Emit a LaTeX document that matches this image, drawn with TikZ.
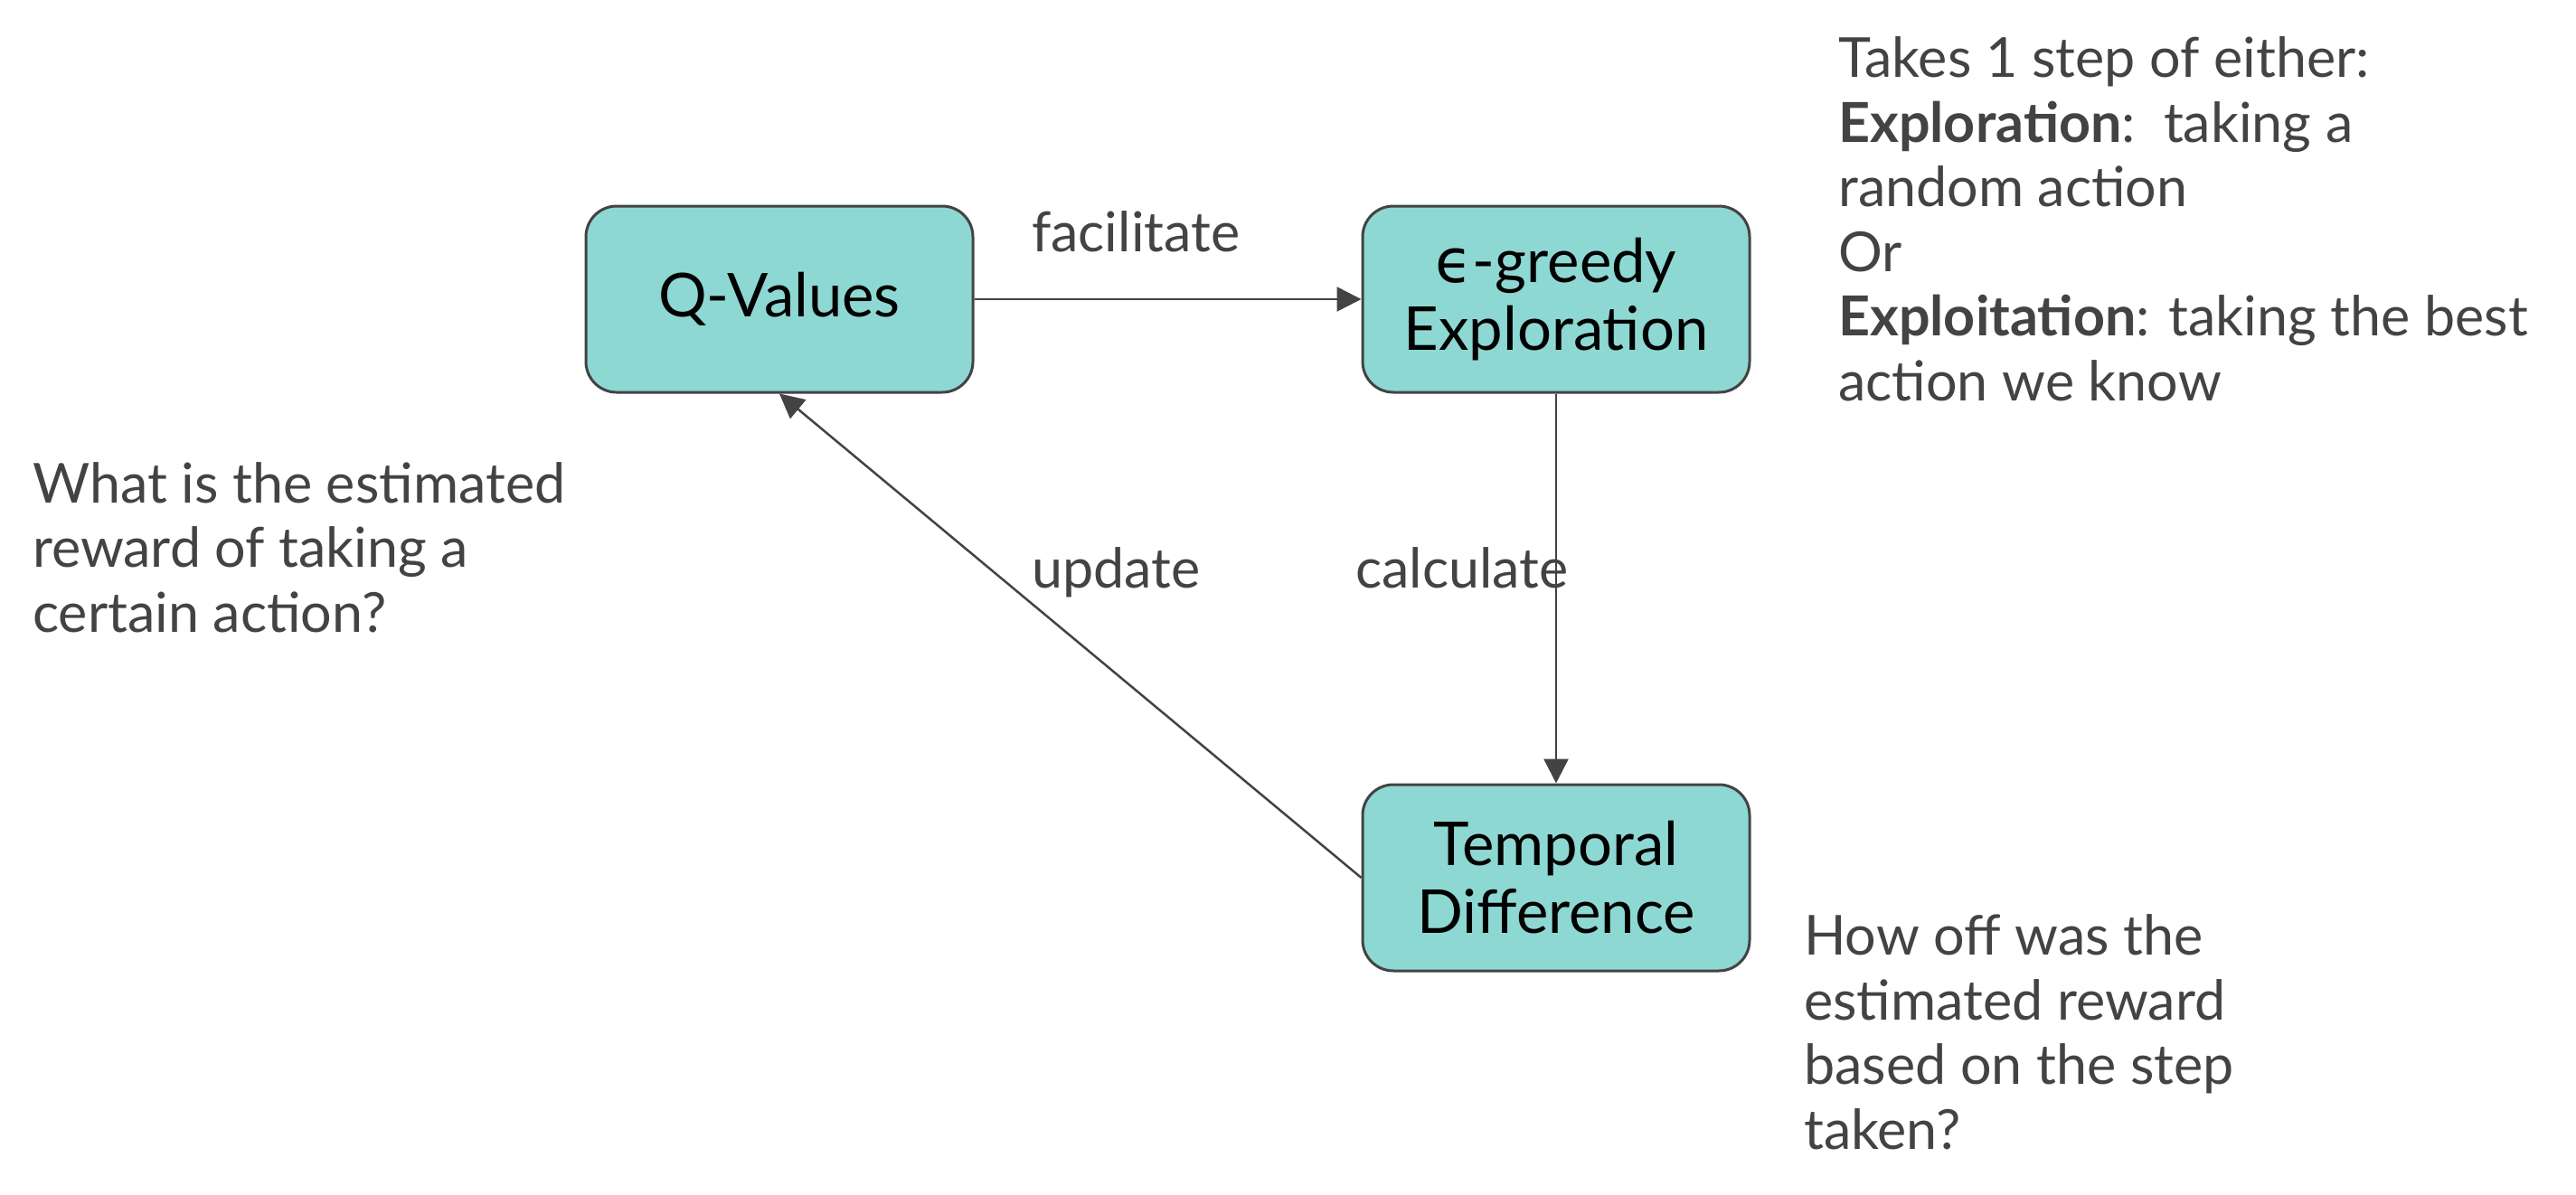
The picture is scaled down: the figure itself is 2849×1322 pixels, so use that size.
\documentclass[tikz,border=0pt]{standalone}
\usepackage{fontspec}
\setmainfont{Lato}
\newfontfamily\dejavu{DejaVu Sans}
\usetikzlibrary{arrows.meta}
\definecolor{boxfill}{HTML}{8ED8D3}
\definecolor{ink}{HTML}{434343}
\tikzset{
  qbox/.style={draw=ink, line width=3pt, fill=boxfill, rounded corners=34pt,
    minimum width=428pt, minimum height=206pt, inner sep=0pt, align=center,
    text=black, font=\fontsize{67}{75}\selectfont},
  note/.style={anchor=base west, inner sep=0pt, align=left, text=ink,
    font=\fontsize{61}{71.5}\selectfont},
  conn/.style={draw=ink, line width=2.5pt, -{Triangle[length=27pt,width=27pt]}}
}
\begin{document}
\begin{tikzpicture}[x=1pt,y=-1pt]
\useasboundingbox[fill=white] (0,0) rectangle (2849,1322);
\node[qbox] (Q) at (862,331) {Q-Values};
\node[qbox] (E) at (1721,331) {{\dejavu ϵ}-greedy\\Exploration};
\node[qbox] (T) at (1721,971) {Temporal\\Difference};
\draw[conn] (Q) -- (E);
\draw[conn] (E) -- (T);
\draw[conn] (T.west) -- (Q.south);
\node[note] (lf) at (1141,278) {facilitate};
\node[note] (lu) at (1141,650) {update};
\node[note] (lc) at (1499,650) {calculate};
% base anchor of a multi-line node = baseline of its last line
\node[note] (n1) at (36,699) {What is the estimated\\reward of taking a\\certain action?};
\node[note] (n2) at (2033,443) {Takes 1 step of either:\\\textbf{Exploration}:\ \ taking a\\random action\\Or\\\textbf{Exploitation}: taking the best\\action we know};
\node[note] (n3) at (1995,1271) {How off was the\\estimated reward\\based on the step\\taken?};
\end{tikzpicture}
\end{document}
